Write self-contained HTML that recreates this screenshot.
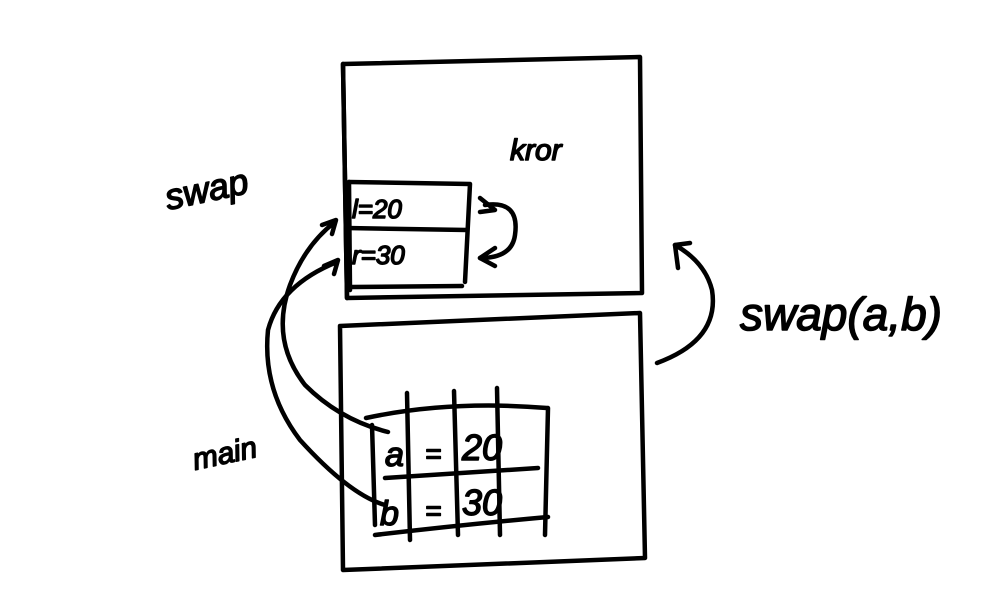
<!DOCTYPE html>
<html><head><meta charset="utf-8"><style>
html,body{margin:0;padding:0;background:#fff;width:1000px;height:600px;overflow:hidden}
svg{display:block}
text{font-family:"Liberation Sans",sans-serif;font-style:italic;fill:#000;stroke:#000;stroke-width:1.5}
</style></head><body>
<svg width="1000" height="600" viewBox="0 0 1000 600" fill="none" stroke="#000" stroke-width="4.5" stroke-linecap="round" stroke-linejoin="round">
<!-- top box -->
<path d="M343 64 L640 57 L642 293 L347 298 Z"/>
<path d="M343 64 L347 298"/>
<!-- bottom box -->
<path d="M340 326 L640 313 L645 558 L343 570 Z"/>
<!-- inner swap box -->
<path d="M349 182 L470 184 L465 282"/>
<path d="M349 182 L350 290"/>
<path d="M346 228 L467 230"/>
<path d="M352 287 L462 286"/>
<!-- swap arrows between rows -->
<path d="M485 205 Q520 200 515 235 Q512 258 480 258"/>
<path d="M480 258 L495 248 M480 258 L495 266"/>
<path d="M480 198 L495 210 L480 212"/>
<!-- grid in main -->
<path d="M366 418 Q450 400 547 408"/>
<path d="M372 425 L375 525"/>
<path d="M407 393 L410 540"/>
<path d="M454 391 L458 535"/>
<path d="M497 388 L500 535"/>
<path d="M548 408 L545 535"/>
<path d="M385 478 L538 468"/>
<path d="M375 535 Q460 525 548 517"/>
<!-- curves from main to swap -->
<path d="M388 432 Q340 420 305 385 Q270 340 290 285 Q305 245 335 222"/>
<path d="M322 225 L336 220 L332 234"/>
<path d="M385 505 Q350 495 300 440 Q262 390 268 330 Q280 285 337 262"/>
<path d="M324 266 L338 260 L334 274"/>
<!-- right arrow -->
<path d="M657 363 Q720 340 712 290 Q705 262 675 245"/>
<path d="M675 245 L678 268 M675 245 L690 243"/>
<!-- labels -->
<text x="168" y="210" font-size="36" transform="rotate(-12 168 210)">swap</text>
<text x="510" y="160" font-size="30">kror</text>
<text x="352" y="218" font-size="26">l=20</text>
<text x="352" y="264" font-size="26">r=30</text>
<text x="740" y="330" font-size="46">swap(a,b)</text>
<text x="195" y="470" font-size="30" transform="rotate(-12 195 470)">main</text>
<text x="385" y="466" font-size="34">a</text>
<text x="425" y="463" font-size="28">=</text>
<text x="462" y="460" font-size="36">20</text>
<text x="380" y="525" font-size="34">b</text>
<text x="425" y="520" font-size="28">=</text>
<text x="462" y="515" font-size="36">30</text>
</svg>
</body></html>
